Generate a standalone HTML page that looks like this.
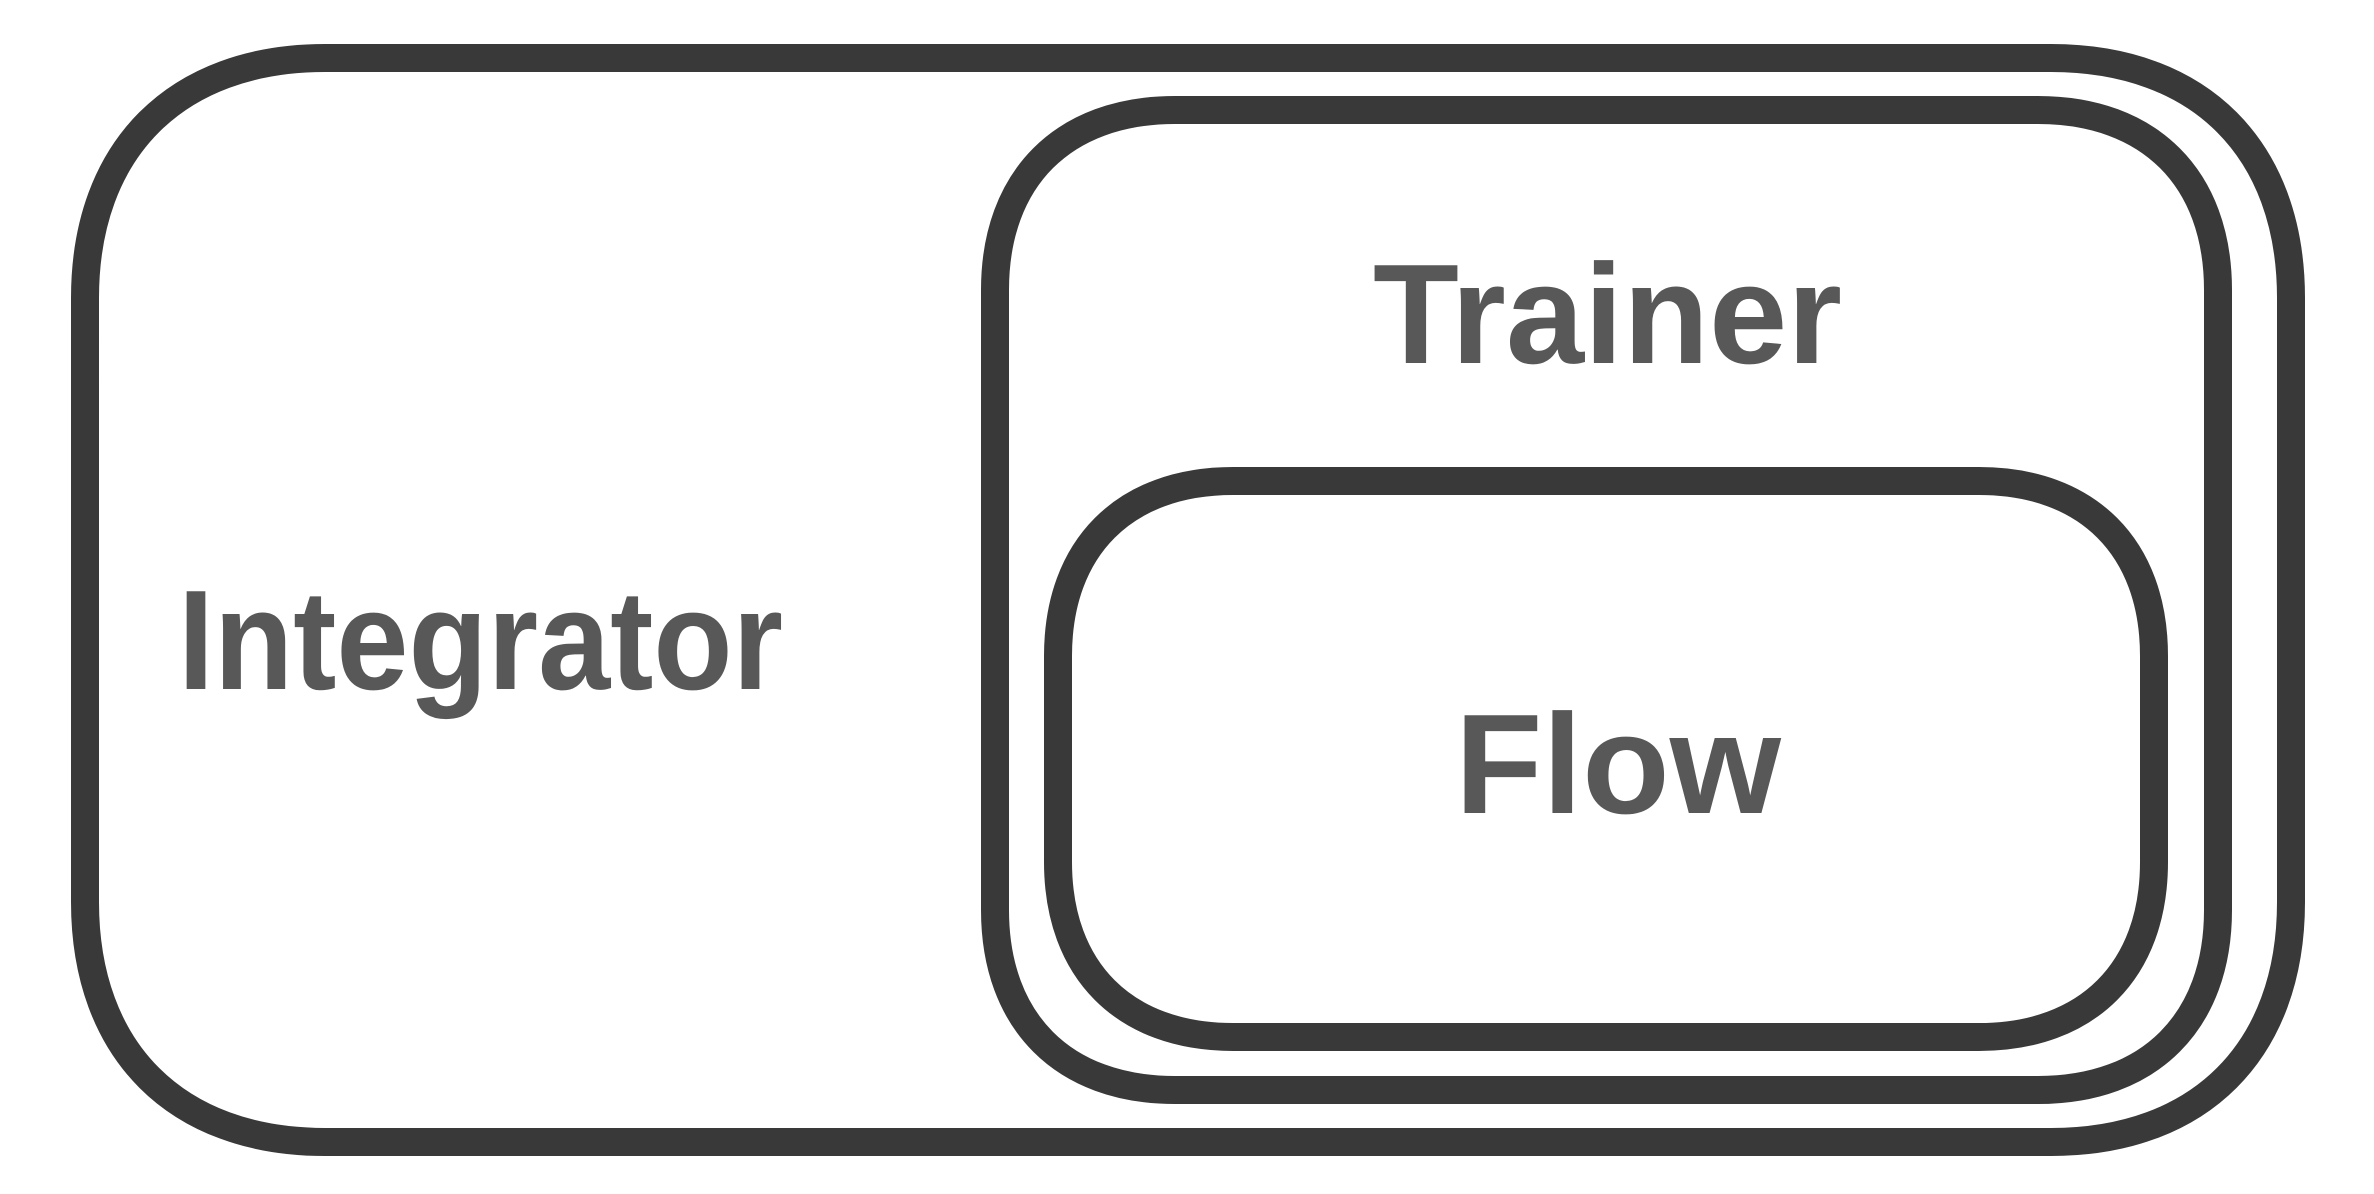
<!DOCTYPE html>
<html><head><meta charset="utf-8"><style>
html,body{margin:0;padding:0;background:#fff;}
svg{display:block;}
text{font-family:"Liberation Sans",Arial,sans-serif;font-weight:bold;fill:#585858;}
</style></head><body>
<svg id="s" width="2374" height="1194" viewBox="0 0 2374 1194" xmlns="http://www.w3.org/2000/svg">
<g id="g" fill="none" stroke="#393939" stroke-width="28"></g>
<text x="178" y="689" font-size="142" textLength="605" lengthAdjust="spacingAndGlyphs">Integrator</text>
<text x="1373" y="363" font-size="142" textLength="469" lengthAdjust="spacingAndGlyphs">Trainer</text>
<text x="1455" y="813" font-size="142" textLength="326" lengthAdjust="spacingAndGlyphs">Flow</text>
</svg>
<script>
function sq(x,y,w,h,r,k){
  var X=x+w,Y=y+h,c=r*(1-k);
  return "M"+(x+r)+","+y+" L"+(X-r)+","+y+
  " C"+(X-c)+","+y+" "+X+","+(y+c)+" "+X+","+(y+r)+
  " L"+X+","+(Y-r)+
  " C"+X+","+(Y-c)+" "+(X-c)+","+Y+" "+(X-r)+","+Y+
  " L"+(x+r)+","+Y+
  " C"+(x+c)+","+Y+" "+x+","+(Y-c)+" "+x+","+(Y-r)+
  " L"+x+","+(y+r)+
  " C"+x+","+(y+c)+" "+(x+c)+","+y+" "+(x+r)+","+y+" Z";
}
var g=document.getElementById("g");
[[85,58,2206,1084,240],[995,110,1223,980,180],[1058,481,1096,556,175]].forEach(function(b){
  var p=document.createElementNS("http://www.w3.org/2000/svg","path");
  p.setAttribute("d",sq(b[0],b[1],b[2],b[3],b[4],0.62));
  g.appendChild(p);
});
</script>
</body></html>
